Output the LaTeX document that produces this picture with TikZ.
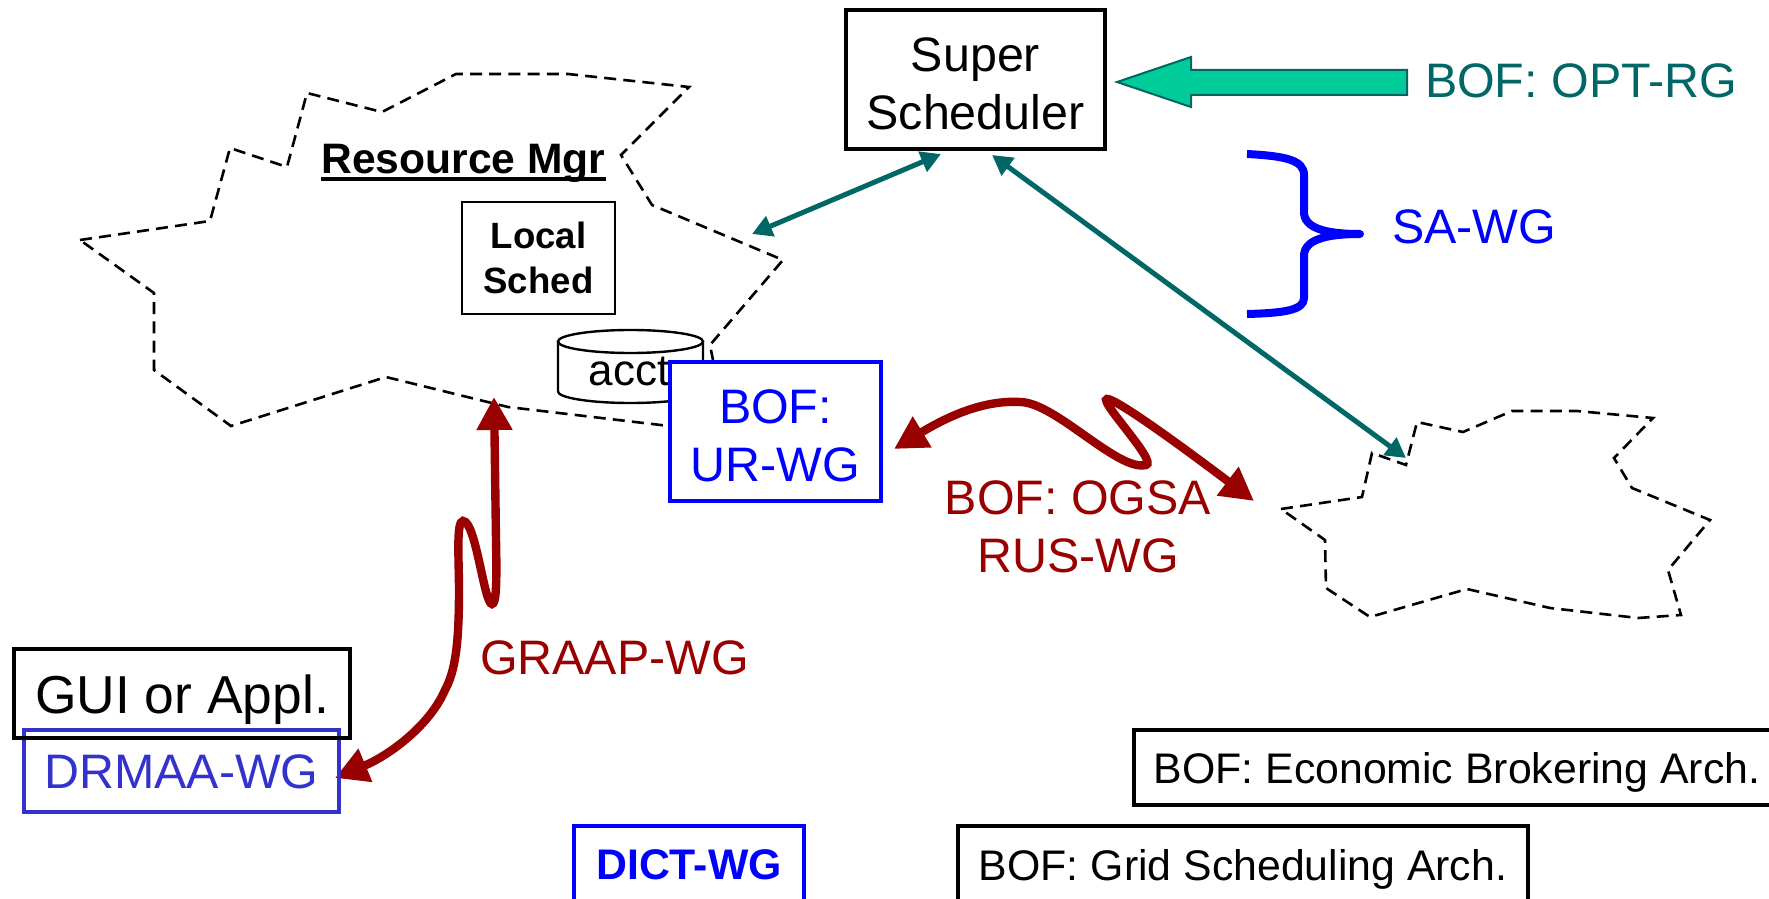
\documentclass[tikz,border=0pt]{standalone}
\usepackage{fontspec}
\setmainfont{Liberation Sans}
\usetikzlibrary{arrows.meta}
\definecolor{tealline}{HTML}{006666}
\definecolor{tealfill}{HTML}{00CC99}
\definecolor{bofred}{HTML}{990000}
\definecolor{wgblue}{HTML}{0000FF}
\definecolor{drmaablue}{HTML}{3333CC}
\def\ulinetxt#1{\setbox0\hbox{#1}\rlap{\rule[-3.4pt]{\wd0}{1.7pt}}\box0}
\def\bigfont{\fontsize{24.2}{29}\selectfont}
\def\smallfont{\fontsize{21.4}{26}\selectfont}
\tikzset{
	cloudline/.style={line width=1.3pt, dash pattern=on 6pt off 3.6pt},
	boxnode/.style={draw, fill=white, inner sep=0pt, outer sep=0pt, line width=1.7pt, align=center},
	bluebox/.style={boxnode, draw=wgblue, text=wgblue},
	tealarrow/.style={line width=2.5pt, color=tealline, {Triangle[length=10pt,width=10.5pt]}-{Triangle[length=10pt,width=10.5pt]}},
	redarrow/.style={line width=4.2pt, color=bofred, {Triangle[length=16.5pt,width=17pt]}-{Triangle[length=16.5pt,width=17pt]}},
}

\begin{document}
\begin{tikzpicture}[x=0.5pt, y=-0.5pt]
			%%%%% START %%%%%
			
			\useasboundingbox (0, 0) rectangle (1769, 899);
			
			\draw[cloudline] (80, 240) -- (210, 221) -- (230, 148) -- (287, 167) -- (307, 93) -- (382, 112) -- (456, 74) -- (568, 74) -- (689, 87) -- (621, 155) -- (652, 205) -- (783, 260) -- (710, 345) -- (713, 360) -- (669, 426) -- (508, 407) -- (386, 377) -- (231, 426) -- (154, 370) -- (154, 293) -- cycle;
			\draw[cloudline] (1281, 509) -- (1362, 497) -- (1372, 453) -- (1406, 465) -- (1417, 422) -- (1463, 432) -- (1512, 411) -- (1577, 411) -- (1653, 418) -- (1614, 458) -- (1632, 488) -- (1710, 520) -- (1668, 570) -- (1681, 615) -- (1638, 618) -- (1550, 608) -- (1467, 589) -- (1370, 617) -- (1326, 588) -- (1325, 540) -- cycle;
			
			\node[anchor=base, font=\bfseries\fontsize{21.3}{26}\selectfont] (resmgr) at (463.5, 174) {\ulinetxt{Resource Mgr}};
			\node[boxnode, line width=1.4pt, minimum width=76.5pt, minimum height=56pt, font=\bfseries\fontsize{18.3}{22.5}\selectfont] (localsched) at (538.5, 258) {Local\\Sched};
			
			\draw[line width=1.2pt] (558, 341.5) -- (558, 391.5) arc[start angle=180, end angle=0, x radius=72.5, y radius=11.5] -- (703, 341.5);
			\draw[line width=1.2pt] (630.5, 341.5) ellipse[x radius=72.5, y radius=11.5];
			\node[anchor=base, font=\fontsize{22}{26}\selectfont] (acct) at (629, 385) {acct};
			
			\node[bluebox, minimum width=105.5pt, minimum height=69.5pt, font=\bigfont] (urwg) at (775.5, 431.5) {\rule{0pt}{21pt}BOF:\\UR-WG};
			\node[boxnode, minimum width=129.5pt, minimum height=69.5pt, font=\bigfont] (super) at (975.5, 79.5) {\rule{0pt}{21pt}Super\\Scheduler};
			
			\draw[line width=1pt, color=tealline, fill=tealfill] (1407, 70) -- (1191, 70) -- (1191, 57) -- (1117, 82) -- (1191, 107) -- (1191, 95) -- (1407, 95) -- cycle;
			\node[anchor=base, color=tealline, font=\bigfont] (optrg) at (1581, 98) {BOF: OPT-RG};
			
			\draw[line width=4pt, color=wgblue, line join=round] (1247, 154) .. controls (1285, 156) and (1304, 160) .. (1304, 175) -- (1304, 212) .. controls (1304, 228) and (1325, 234) .. (1360, 234) .. controls (1325, 234) and (1304, 240) .. (1304, 256) -- (1304, 298) .. controls (1304, 310) and (1285, 313) .. (1247, 314);
			\node[anchor=base, color=wgblue, font=\bigfont] (sawg) at (1474, 243) {SA-WG};
			
			\coordinate (mgredge) at (752, 234);
			\coordinate (superleft) at (941, 154);
			\coordinate (superright) at (992, 155);
			\coordinate (cloudedge) at (1406, 458);
			\draw[tealarrow] (mgredge) -- (superleft);
			\draw[tealarrow] (superright) -- (cloudedge);
			
			\coordinate (mgrtip) at (494, 397);
			\coordinate (drmaatip) at (335, 778);
			\coordinate (urtip) at (894, 449);
			\coordinate (cloudtip) at (1254, 501);
			\draw[redarrow] (mgrtip) -- (496, 540) .. controls (497, 587) and (496, 604) .. (492, 604) .. controls (484, 604) and (476, 521) .. (463, 521) .. controls (456, 521) and (459, 560) .. (459, 590) .. controls (459, 640) and (456, 670) .. (445, 690) .. controls (430, 725) and (390, 755) .. (drmaatip);
			\draw[redarrow] (urtip) .. controls (950, 415) and (985, 400) .. (1020, 402) .. controls (1055, 402) and (1118, 472) .. (1146, 465) .. controls (1158, 462) and (1098, 400) .. (1107, 399) .. controls (1115, 398) and (1180, 445) .. (cloudtip);
			
			\node[anchor=base, color=bofred, font=\bigfont] (graap) at (614.5, 674) {GRAAP-WG};
			\node[color=bofred, align=center, font=\bigfont] (ogsa) at (1078, 527) {BOF: OGSA\\RUS-WG};
			
			\node[boxnode, fill=none, draw=drmaablue, text=drmaablue, line width=1.8pt, anchor=base, minimum width=157.5pt, text height=29pt, text depth=12pt, font=\bigfont] (drmaa) at (181.5, 788) {DRMAA-WG};
			\node[boxnode, fill=none, line width=2pt, anchor=base, minimum width=168pt, text height=32pt, text depth=12.5pt, font=\fontsize{26.7}{32}\selectfont] (gui) at (182, 713) {GUI or Appl.};
			
			\node[bluebox, anchor=base, minimum width=115pt, text height=26.5pt, text depth=40pt, font=\bfseries\smallfont] (dict) at (689, 879) {DICT-WG};
			\node[boxnode, anchor=base, minimum width=285pt, text height=27pt, text depth=40pt, font=\smallfont] (gridsched) at (1243, 880) {BOF: Grid Scheduling Arch.};
			\node[boxnode, anchor=base, minimum width=323pt, text height=26.5pt, text depth=11pt, font=\smallfont] (econ) at (1457, 783) {BOF: Economic Brokering Arch.};
			
			%%%%% END %%%%%
\end{tikzpicture}
\end{document}
